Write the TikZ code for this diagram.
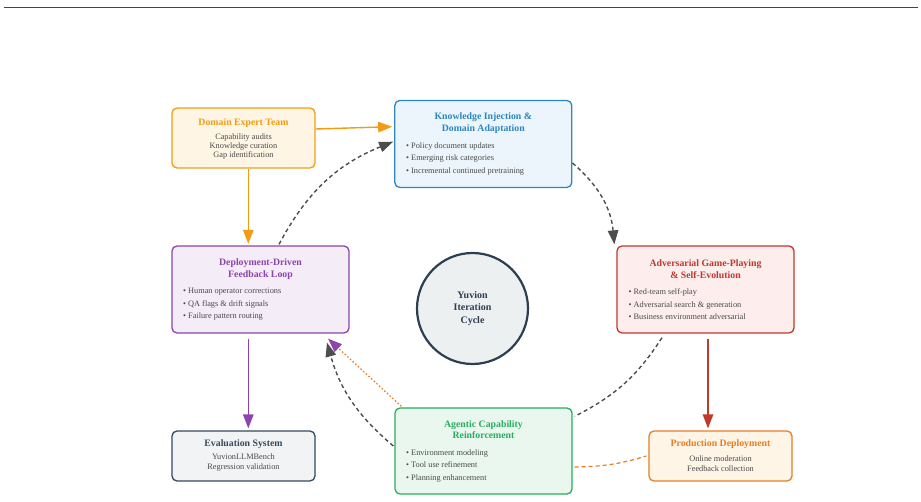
\documentclass[tikz,border=0pt]{standalone}
\usepackage{fontspec}
\setmainfont{Liberation Serif}
\usetikzlibrary{arrows.meta,calc}
\definecolor{cDE}{HTML}{F39C12}\definecolor{fDE}{HTML}{FEF5E4}
\definecolor{cKI}{HTML}{2E86C1}\definecolor{fKI}{HTML}{EBF5FB}
\definecolor{cDP}{HTML}{8E44AD}\definecolor{fDP}{HTML}{F4ECF7}
\definecolor{cAD}{HTML}{C0392B}\definecolor{fAD}{HTML}{FDEDEC}
\definecolor{cEV}{HTML}{34495E}\definecolor{fEV}{HTML}{F2F3F4}
\definecolor{cAG}{HTML}{27AE60}\definecolor{fAG}{HTML}{E9F7EF}
\definecolor{cPD}{HTML}{E67E22}\definecolor{fPD}{HTML}{FEF5E7}
\definecolor{cCY}{HTML}{2C3E50}\definecolor{fCY}{HTML}{ECF0F1}
\definecolor{txt}{HTML}{4A4A4A}
\definecolor{arc}{HTML}{4D4D4D}
\definecolor{rule}{HTML}{444444}
\begin{document}
\begin{tikzpicture}[x=1pt,y=-1pt,
  box/.style={draw, rounded corners=5pt, line width=1.3pt, inner sep=0pt},
  bigbox/.style={box, minimum width=177pt, minimum height=87pt},
  smallbox/.style={box, minimum width=143pt, minimum height=50pt},
  ttl/.style={font=\fontsize{9.8}{11.7}\selectfont\bfseries, align=center, inner sep=0pt},
  bd/.style={font=\fontsize{8.3}{9.6}\selectfont, text=txt, align=center, inner sep=0pt},
  bl/.style={font=\fontsize{8.3}{12.4}\selectfont, text=txt, align=left, inner sep=0pt, anchor=west},
  tip/.style={-{Triangle[length=14pt,width=10.5pt]}},
  solidarr/.style={tip, line width=1.4pt},
  cyc/.style={line width=1.4pt, draw=arc, dash pattern=on 4pt off 3pt, tip}
]
\useasboundingbox (0,0) rectangle (921,502);
\draw[rule, line width=1.8pt] (4,7.5) -- (918,7.5);

% boxes
\node[box, draw=cDE, fill=fDE, minimum width=143pt, minimum height=60pt] (de) at (243.5,138) {};
\node[bigbox, draw=cKI, fill=fKI] (ki) at (483.3,144) {};
\node[bigbox, draw=cDP, fill=fDP] (dp) at (260.5,289.5) {};
\node[bigbox, draw=cAD, fill=fAD] (ad) at (705.5,289.5) {};
\node[smallbox, draw=cEV, fill=fEV] (ev) at (243.5,456) {};
\node[box, draw=cAG, fill=fAG, minimum width=177pt, minimum height=86pt] (ag) at (483.5,451) {};
\node[smallbox, draw=cPD, fill=fPD] (pd) at (720.5,456) {};
\node[circle, draw=cCY, fill=fCY, line width=2.2pt, minimum size=111pt, inner sep=0pt] (cy) at (472.5,308.5) {};

% texts
\node[ttl, text=cDE] (deT) at (243.5,122.7) {Domain Expert Team};
\node[bd, font=\fontsize{8.3}{9.2}\selectfont] (deB) at (243.5,146.5) {Capability audits\\Knowledge curation\\Gap identification};

\node[ttl, text=cKI] (kiT) at (483.3,122.9) {Knowledge Injection \&\\Domain Adaptation};
\node[bl] (kiB) at (406,159) {• Policy document updates\\• Emerging risk categories\\• Incremental continued pretraining};

\node[ttl, text=cDP] (dpT) at (260.5,269) {Deployment-Driven\\Feedback Loop};
\node[bl] (dpB) at (183,304.5) {• Human operator corrections\\• QA flags \& drift signals\\• Failure pattern routing};

\node[ttl, text=cAD] (adT) at (705.5,269) {Adversarial Game-Playing\\\& Self-Evolution};
\node[bl] (adB) at (628.5,304.5) {• Red-team self-play\\• Adversarial search \& generation\\• Business environment adversarial};

\node[ttl, text=cEV] (evT) at (243.5,444) {Evaluation System};
\node[bd, font=\fontsize{8.3}{10}\selectfont] (evB) at (243.5,463) {YuvionLLMBench\\Regression validation};

\node[ttl, text=cAG, font=\fontsize{9.8}{11.5}\selectfont\bfseries] (agT) at (483.5,429.8) {Agentic Capability\\Reinforcement};
\node[bl, font=\fontsize{8.3}{12.5}\selectfont] (agB) at (406,465.7) {• Environment modeling\\• Tool use refinement\\• Planning enhancement};

\node[ttl, text=cPD] (pdT) at (720.5,444) {Production Deployment};
\node[bd, font=\fontsize{8.3}{10}\selectfont] (pdB) at (720.5,464) {Online moderation\\Feedback collection};

\node[ttl, text=cCY, font=\fontsize{10}{12.5}\selectfont\bfseries] (cyT) at (cy) {Yuvion\\Iteration\\Cycle};

% solid arrows
\draw[solidarr, cDE] ([yshift=9pt]de.east) -- ([xshift=-2pt,yshift=17.3pt]ki.west);
\draw[solidarr, cDE, shorten >=1.5pt] ([xshift=4.8pt]de.south) -- ([xshift=4.8pt]de.south |- dp.north);
\draw[solidarr, cDP, shorten >=2pt] ([xshift=-12.2pt,yshift=-5pt]dp.south) -- ([xshift=-12.2pt]dp.south |- ev.north);
\draw[solidarr, cAD, shorten >=2pt] ([xshift=2.5pt,yshift=-5pt]ad.south) -- ([xshift=2.5pt]ad.south |- pd.north);

% cycle arcs
\draw[cyc] ([xshift=18.5pt,yshift=1pt]dp.north) to[bend left=20] ([xshift=-1pt,yshift=2.3pt]ki.west);
\draw[cyc] ([yshift=-19pt]ki.east) to[bend left=22] ([xshift=-2pt,yshift=1pt]ad.north west);
\draw[cyc, -] ([xshift=-43.5pt,yshift=-4pt]ad.south) to[bend left=15] ([xshift=2pt,yshift=-9pt]ag.north east);
\draw[cyc] ([xshift=-1pt,yshift=5pt]ag.west) to[bend left=17] ([xshift=66.5pt,yshift=-9pt]dp.south);

% orange feedback links
\draw[line width=1.2pt, draw=cPD, dash pattern=on 1.6pt off 2pt, -{Triangle[length=14pt,width=10.5pt,color=cDP]}]
  ([xshift=7pt,yshift=1pt]ag.north west) -- ([xshift=67.5pt,yshift=-5pt]dp.south);
\draw[line width=1.2pt, draw=cPD, dash pattern=on 4pt off 3pt] ([xshift=2pt,yshift=-16pt]ag.east) to[bend right=8] ([xshift=-2pt]pd.west);
\end{tikzpicture}
\end{document}
